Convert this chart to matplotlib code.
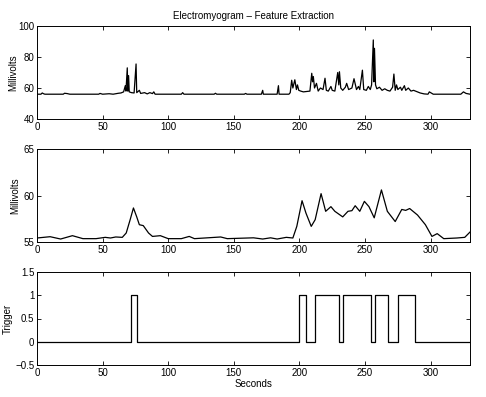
import matplotlib
matplotlib.use("Agg")
import matplotlib.pyplot as plt

plt.rcParams['font.family'] = ['Liberation Sans', 'DejaVu Sans']

# Raw EMG (seconds, millivolts)
t_raw = [0, 3, 4, 5, 6, 20, 21, 23, 25, 47, 48, 50, 55, 58, 62, 64, 66, 67.3, 67.8, 68.8,
         69.2, 69.8, 70.3, 72, 74, 75.5, 76, 78, 79, 82, 84, 86, 88, 89, 90, 110, 111, 112,
         135, 136, 137, 150, 158, 159, 160, 171, 172, 172.5, 183, 184, 184.5, 192, 193,
         194.1, 195, 196.5, 197.7, 198.5, 199.5, 201, 203, 206, 208, 209.4, 210, 210.6,
         211.5, 213, 214.3, 216, 218, 219.5, 220.5, 222, 224, 225, 227, 229.2, 230, 230.5,
         231.5, 233, 235, 236, 237.5, 240, 241.6, 242.4, 243.5, 245, 246, 248, 249, 251,
         252.5, 254, 255, 256.3, 256.7, 257.2, 258, 259, 261, 263, 265, 267, 269, 271, 272,
         273, 274, 275, 277, 278, 280, 281, 283, 285, 287, 290, 292, 295, 298, 299, 300,
         302, 323, 325, 327, 330]
mv_raw = [56, 56, 56.8, 56.3, 56, 56, 56.6, 56.4, 56, 56, 56.5, 56, 56.3, 56, 56.6, 56.8,
          57.5, 61.5, 58, 73, 58, 68, 57.5, 57, 56.8, 75.5, 57, 58.5, 56.5, 57, 56.2, 57,
          56.4, 57.5, 56, 56, 57, 56, 56, 56.6, 56, 56, 56, 56.5, 56, 56, 58.5, 56, 56,
          61.5, 56, 56, 57, 65, 60, 65.3, 59, 62, 58.5, 58, 57.5, 57.8, 58, 69.5, 64, 67.4,
          60, 63, 58, 60, 59, 66.3, 58.5, 58, 61, 58.5, 58, 70, 62, 70.5, 60, 58.5, 60.5, 63,
          59, 60, 66, 63, 59, 61, 59, 71.5, 59, 58.5, 61, 59, 62, 91, 64, 85.6, 62, 59.5,
          60.5, 58.5, 59.5, 58.5, 58, 60.5, 69, 58.5, 62, 59, 60.5, 58.5, 61.5, 58.5, 60, 58,
          58.5, 57.5, 56.8, 56.2, 56, 57.5, 57, 56, 56, 57.5, 56.5, 56]

# Smoothed feature (seconds, millivolts)
t_feat = [0, 10, 18, 27, 35, 45, 52, 56, 60, 65, 68, 71, 73.5, 76, 78, 81, 85, 88, 94,
          100, 110, 116, 120, 140, 145, 165, 172, 178, 183, 190, 195, 198, 202, 205, 209,
          212, 216.5, 220, 224, 227, 233, 237, 240, 242.5, 246, 249.5, 253, 257, 262.5,
          267, 273, 278, 281, 284, 290, 296, 301, 305, 310, 320, 326, 330]
mv_feat = [55.43, 55.57, 55.32, 55.68, 55.36, 55.36, 55.5, 55.43, 55.54, 55.5, 55.97,
           57.4, 58.66, 57.7, 56.86, 56.76, 55.97, 55.6, 55.68, 55.36, 55.36, 55.6, 55.36,
           55.54, 55.36, 55.45, 55.32, 55.45, 55.32, 55.5, 55.43, 56.68, 59.44, 58.1, 56.68,
           57.4, 60.2, 58.3, 58.8, 58.3, 57.7, 58.3, 58.37, 58.9, 58.3, 59.37, 58.8, 57.6,
           60.6, 58.3, 57.2, 58.5, 58.4, 58.6, 57.9, 56.86, 55.6, 55.9, 55.36, 55.43, 55.5,
           56.07]

# Trigger steps (time of change, new level)
t_trig = [0, 71.9, 76.5, 200, 205.3, 212.1, 230, 233.5, 254.8, 257.9, 267.8, 275.4, 288.1, 330]
trig = [0, 1, 0, 1, 0, 1, 0, 1, 0, 1, 0, 1, 0, 0]

fig = plt.figure(figsize=(4.86, 3.97), dpi=100)
W, H = 486, 397

def mk(top, bot):
    return fig.add_axes([37 / W, 1 - bot / H, 433 / W, (bot - top) / H])

ax1 = mk(26, 119)
ax2 = mk(149, 242)
ax3 = mk(272, 365)

ax1.plot(t_raw, mv_raw, color='black', lw=0.9)
ax2.plot(t_feat, mv_feat, color='black', lw=0.9)
ax3.step(t_trig, trig, where='post', color='black', lw=0.9)

fs = 7
for ax in (ax1, ax2, ax3):
    ax.set_xlim(0, 330)
    ax.set_xticks([0, 50, 100, 150, 200, 250, 300])
    ax.tick_params(direction='in', length=3, width=0.6, top=True, right=True,
                   labelsize=fs, pad=2)
    for s in ax.spines.values():
        s.set_linewidth(0.7)

ax1.set_ylim(40, 100)
ax1.set_yticks([40, 60, 80, 100])
ax1.set_ylabel('Millivolts', fontsize=fs)
ax1.yaxis.set_label_coords((18 - 37) / 433, 0.5)
ax1.set_title('Electromyogram – Feature Extraction', fontsize=fs, pad=5)

ax2.set_ylim(55, 65)
ax2.set_yticks([55, 60, 65])
ax2.set_ylabel('Millivolts', fontsize=fs)
ax2.yaxis.set_label_coords((20 - 37) / 433, 0.5)

ax3.set_ylim(-0.5, 1.5)
ax3.set_yticks([-0.5, 0, 0.5, 1, 1.5])
ax3.set_yticklabels(['−0.5', '0', '0.5', '1', '1.5'])
ax3.set_ylabel('Trigger', fontsize=fs)
ax3.yaxis.set_label_coords((13 - 37) / 433, 0.5)
ax3.set_xlabel('Seconds', fontsize=fs, labelpad=1)

fig.savefig('out.png', dpi=100)
